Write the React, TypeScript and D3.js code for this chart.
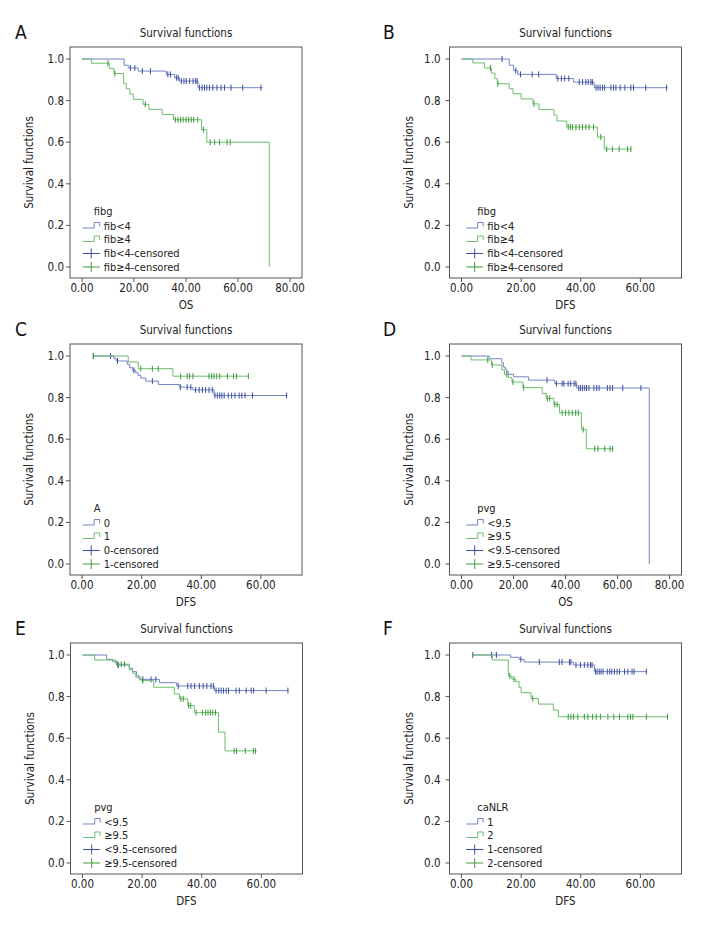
import React from 'react';
import * as d3 from 'd3';

// ---------- axis ticks ----------
const yTicks = [0, 0.2, 0.4, 0.6, 0.8, 1.0];
const xTicksLong = [0, 20, 40, 60, 80];
const xTicksShort = [0, 20, 40, 60];

// ---------- Panel A (OS, fibg) ----------
const aLowSteps = [[16.2, 0.970], [17.8, 0.957], [21.6, 0.942], [32.4, 0.926], [35.6, 0.910], [37.5, 0.894], [44.6, 0.862]];
const aLowCensor = [18.6, 20.3, 23.2, 26.3, 33.0, 34.0, 36.3, 37.0, 38.2, 39.2, 40.1, 41.4, 42.7, 43.7, 44.3, 45.2, 46.2, 47.1, 48.0, 49.0, 50.3, 51.9, 53.5, 54.8, 57.3, 61.8, 68.8];
const aHighSteps = [[3.7, 0.980], [10.5, 0.955], [12.3, 0.930], [16.0, 0.883], [17.0, 0.857], [18.4, 0.831], [19.7, 0.806], [23.5, 0.782], [25.7, 0.758], [30.8, 0.733], [35.2, 0.708], [46.0, 0.660], [48.0, 0.600], [72.0, 0.0]];
const aHighCensor = [10.0, 12.6, 24.3, 35.9, 36.9, 37.9, 38.9, 40.0, 41.0, 42.0, 43.0, 44.5, 46.7, 49.3, 51.0, 52.9, 55.8, 57.0];

// ---------- Panel B (DFS, fibg) ----------
const bLowSteps = [[16.0, 0.970], [17.5, 0.944], [18.9, 0.926], [31.8, 0.906], [37.6, 0.889], [44.5, 0.862]];
const bLowCensor = [13.6, 18.2, 19.8, 23.7, 25.9, 32.3, 33.5, 34.6, 36.0, 39.5, 40.6, 41.7, 42.5, 43.4, 43.9, 45.1, 45.8, 46.5, 47.3, 48.0, 50.1, 51.0, 51.8, 53.2, 54.8, 56.8, 57.7, 61.8, 68.8];
const bHighSteps = [[3.8, 0.981], [7.7, 0.957], [10.0, 0.932], [11.2, 0.906], [12.0, 0.881], [16.0, 0.857], [17.3, 0.833], [20.0, 0.808], [24.0, 0.784], [26.0, 0.757], [31.0, 0.730], [32.0, 0.702], [35.3, 0.673], [45.6, 0.625], [47.9, 0.567]];
const bHighCensor = [9.7, 12.2, 24.3, 35.8, 36.5, 37.2, 38.4, 39.5, 40.6, 41.7, 42.8, 44.3, 46.7, 48.7, 50.6, 52.9, 55.7, 56.8];

// ---------- Panel C (DFS, A) ----------
const cZeroSteps = [[10.7, 0.987], [11.5, 0.976], [15.2, 0.960], [16.0, 0.944], [16.9, 0.931], [18.0, 0.920], [18.8, 0.907], [19.7, 0.894], [21.4, 0.879], [25.6, 0.863], [32.6, 0.850], [37.2, 0.837], [44.3, 0.810]];
const cZeroCensor = [3.8, 9.6, 11.9, 17.4, 23.6, 33.0, 35.3, 36.5, 38.1, 39.3, 40.4, 41.5, 42.6, 43.7, 44.6, 45.4, 46.2, 46.9, 47.7, 49.1, 50.2, 51.3, 52.7, 53.6, 54.7, 57.2, 68.6];
const cOneSteps = [[15.5, 0.971], [18.9, 0.939], [30.5, 0.903]];
const cOneCensor = [3.8, 19.7, 23.6, 25.6, 33.1, 35.3, 36.1, 37.2, 42.6, 43.5, 44.3, 45.2, 46.2, 48.8, 50.8, 51.8, 55.8];

// ---------- Panel D (OS, pvg) ----------
const dLowSteps = [[10.7, 0.987], [15.5, 0.968], [16.1, 0.947], [16.8, 0.936], [17.4, 0.925], [18.0, 0.912], [20.0, 0.900], [25.8, 0.884], [35.9, 0.867], [44.3, 0.846], [72.2, 0.0]];
const dLowCensor = [32.9, 36.5, 38.7, 39.4, 41.0, 42.0, 43.3, 44.0, 45.1, 45.8, 46.6, 47.4, 48.1, 49.0, 50.9, 52.0, 52.9, 56.1, 57.1, 58.1, 62.0, 69.0];
const dHighSteps = [[3.6, 0.981], [11.6, 0.957], [15.5, 0.933], [16.5, 0.912], [18.0, 0.896], [19.4, 0.875], [23.6, 0.848], [31.0, 0.820], [32.6, 0.796], [35.5, 0.767], [37.7, 0.727], [46.1, 0.647], [48.0, 0.554]];
const dHighCensor = [10.1, 11.8, 17.4, 19.8, 23.9, 33.0, 33.9, 35.9, 36.8, 38.7, 40.0, 41.3, 42.6, 43.9, 44.9, 46.8, 51.2, 52.5, 55.1, 57.1, 58.1];

// ---------- Panel E (DFS, pvg) ----------
const eLowSteps = [[8.1, 0.979], [10.1, 0.968], [11.4, 0.952], [15.7, 0.936], [16.8, 0.920], [18.1, 0.900], [19.0, 0.883], [25.8, 0.867], [31.6, 0.851], [44.2, 0.829]];
const eLowCensor = [12.0, 20.2, 23.0, 24.6, 32.1, 35.3, 36.4, 37.6, 39.2, 40.5, 41.7, 43.1, 43.9, 44.8, 45.7, 46.5, 47.3, 48.2, 49.0, 51.5, 52.6, 54.9, 56.6, 57.4, 61.6, 68.9];
const eHighSteps = [[4.1, 0.976], [11.2, 0.956], [15.7, 0.928], [16.8, 0.912], [17.9, 0.893], [19.6, 0.877], [23.9, 0.845], [30.8, 0.813], [32.5, 0.789], [35.3, 0.757], [37.5, 0.723], [45.6, 0.629], [47.8, 0.539]];
const eHighCensor = [11.8, 13.0, 14.1, 20.2, 33.0, 33.8, 35.6, 36.3, 38.1, 40.2, 41.3, 42.1, 42.9, 43.7, 44.6, 50.9, 51.7, 54.6, 57.3, 58.0];

// ---------- Panel F (DFS, caNLR) ----------
const fOneSteps = [[16.5, 0.989], [19.3, 0.979], [21.0, 0.966], [37.6, 0.952], [44.6, 0.920]];
const fOneCensor = [3.8, 10.1, 11.7, 19.9, 26.1, 32.8, 33.7, 36.2, 36.7, 38.4, 39.9, 41.2, 42.4, 43.3, 43.8, 44.9, 45.5, 46.2, 46.8, 47.5, 48.9, 49.7, 50.4, 51.3, 52.2, 53.0, 54.7, 55.8, 57.2, 57.9, 62.0];
const fTwoSteps = [[10.3, 0.976], [15.7, 0.899], [16.9, 0.884], [18.2, 0.872], [19.3, 0.844], [20.0, 0.819], [23.3, 0.791], [25.8, 0.764], [30.8, 0.735], [32.5, 0.703]];
const fTwoCensor = [16.2, 17.6, 23.9, 35.8, 36.7, 37.6, 39.0, 41.2, 42.4, 44.0, 45.2, 46.6, 49.1, 51.1, 53.0, 55.8, 56.7, 57.5, 62.0, 69.1];

// ---------- legend labels ----------
const fibLabels = ['fib<4', 'fib≥4', 'fib<4-censored', 'fib≥4-censored'];
const aLabels = ['0', '1', '0-censored', '1-censored'];
const pvgLabels = ['<9.5', '≥9.5', '<9.5-censored', '≥9.5-censored'];
const nlrLabels = ['1', '2', '1-censored', '2-censored'];

type Group = { start: number; end: number; steps: number[][]; censor: number[] };
type PanelCfg = {
  letter: string; left: number; top: number; col: number; long: boolean;
  xTitle: string; legendTitle: string; labels: string[]; groups: Group[];
};

const FONT = "'Liberation Sans Narrow', 'DejaVu Sans Condensed', 'Arial Narrow', sans-serif";
const LINE = ['#7384c6', '#6dbd6d'];
const MARK = ['#3d4f9e', '#3e9a3e'];
const AXIS = '#555';
const W = 232;
const H = 231;

function survivalAt(g: Group, t: number) {
  let s = 1;
  for (const [tt, ss] of g.steps) if (tt <= t) s = ss;
  return s;
}

function Panel({ cfg }: { cfg: PanelCfg }) {
  const { left, top, long } = cfg;
  const x = d3.scaleLinear().domain(long ? [-4.615, 84.6] : [-4.03, 73.8]).range([left, left + W]);
  const y = d3.scaleLinear().domain([-0.0529, 1.0577]).range([top + H, top]);
  const xTicks = long ? xTicksLong : xTicksShort;
  const bottom = top + H;
  const line = d3.line<number[]>().x(d => x(d[0])).y(d => y(d[1])).curve(d3.curveStepAfter);
  const labelGap = cfg.col === 0 ? 6 : 9;
  const legX = left + (cfg.col === 0 ? 12.7 : 16.7);
  const legLabelX = legX + 21;
  const y0 = y(0);
  const rows = [y0 - 41, y0 - 27.5, y0 - 13.5, y0];
  return (
    <g fontFamily={FONT}>
      <text x={cfg.col === 0 ? 15 : 383} y={top - 8} fontSize={19} fill="#111">{cfg.letter}</text>
      <text x={left + W / 2} y={top - 10.5} fontSize={11.5} textAnchor="middle" fill="#222">Survival functions</text>
      <rect x={left} y={top} width={W} height={H} fill="#fff" stroke={AXIS} strokeWidth={1} />
      {yTicks.map(v => (
        <g key={'y' + v}>
          <line x1={left - 4} x2={left} y1={y(v)} y2={y(v)} stroke={AXIS} />
          <text x={left - labelGap} y={y(v) + 4} fontSize={11.5} textAnchor="end" fill="#222">{v.toFixed(1)}</text>
        </g>
      ))}
      {xTicks.map(v => (
        <g key={'x' + v}>
          <line x1={x(v)} x2={x(v)} y1={bottom} y2={bottom + 4} stroke={AXIS} />
          <text x={x(v)} y={bottom + 14} fontSize={11.5} textAnchor="middle" fill="#222">{v.toFixed(2)}</text>
        </g>
      ))}
      <text x={left + W / 2} y={bottom + 31} fontSize={11.5} textAnchor="middle" fill="#222">{cfg.xTitle}</text>
      <text transform={`translate(${left - 37},${top + H / 2}) rotate(-90)`} fontSize={11.5} textAnchor="middle" fill="#222">Survival functions</text>
      {cfg.groups.map((g, gi) => {
        const pts: number[][] = [[g.start, 1], ...g.steps];
        const last = pts[pts.length - 1];
        if (g.end > last[0]) pts.push([g.end, last[1]]);
        return (
          <g key={'g' + gi}>
            <path d={line(pts) || ''} fill="none" stroke={LINE[gi]} strokeWidth={1} />
            {g.censor.map((t, ci) => (
              <line key={ci} x1={x(t)} x2={x(t)} y1={y(survivalAt(g, t)) - 3} y2={y(survivalAt(g, t)) + 3} stroke={MARK[gi]} strokeWidth={1} />
            ))}
          </g>
        );
      })}
      <text x={legLabelX - 10} y={y0 - 56 + 4} fontSize={11} fill="#222">{cfg.legendTitle}</text>
      {cfg.labels.map((lab, i) => {
        const ry = rows[i];
        const gi = i % 2;
        const sym = i < 2
          ? <path d={`M${legX},${ry + 2}H${legX + 11.5}V${ry - 3.5}H${legX + 17}V${ry + 0.5}`} fill="none" stroke={LINE[gi]} />
          : <path d={`M${legX},${ry}H${legX + 17}M${legX + 8.5},${ry - 5}V${ry + 5}`} fill="none" stroke={MARK[gi]} />;
        return (
          <g key={'l' + i}>
            {sym}
            <text x={legLabelX} y={ry + 4} fontSize={11} fill="#222">{lab}</text>
          </g>
        );
      })}
    </g>
  );
}

const panels: PanelCfg[] = [
  { letter: 'A', left: 70, top: 47, col: 0, long: true, xTitle: 'OS', legendTitle: 'fibg', labels: fibLabels,
    groups: [{ start: 0, end: 69.5, steps: aLowSteps, censor: aLowCensor }, { start: 0, end: 72.0, steps: aHighSteps, censor: aHighCensor }] },
  { letter: 'B', left: 449.5, top: 47, col: 1, long: false, xTitle: 'DFS', legendTitle: 'fibg', labels: fibLabels,
    groups: [{ start: 0, end: 69.1, steps: bLowSteps, censor: bLowCensor }, { start: 0, end: 57.1, steps: bHighSteps, censor: bHighCensor }] },
  { letter: 'C', left: 70, top: 344, col: 0, long: false, xTitle: 'DFS', legendTitle: 'A', labels: aLabels,
    groups: [{ start: 3.8, end: 68.9, steps: cZeroSteps, censor: cZeroCensor }, { start: 3.8, end: 56.0, steps: cOneSteps, censor: cOneCensor }] },
  { letter: 'D', left: 449.5, top: 344, col: 1, long: true, xTitle: 'OS', legendTitle: 'pvg', labels: pvgLabels,
    groups: [{ start: 0, end: 72.2, steps: dLowSteps, censor: dLowCensor }, { start: 0, end: 58.4, steps: dHighSteps, censor: dHighCensor }] },
  { letter: 'E', left: 70.5, top: 643, col: 0, long: false, xTitle: 'DFS', legendTitle: 'pvg', labels: pvgLabels,
    groups: [{ start: 0, end: 69.2, steps: eLowSteps, censor: eLowCensor }, { start: 0, end: 58.5, steps: eHighSteps, censor: eHighCensor }] },
  { letter: 'F', left: 449.5, top: 643, col: 1, long: false, xTitle: 'DFS', legendTitle: 'caNLR', labels: nlrLabels,
    groups: [{ start: 3.8, end: 62.3, steps: fOneSteps, censor: fOneCensor }, { start: 3.8, end: 69.3, steps: fTwoSteps, censor: fTwoCensor }] },
];

export default function App() {
  return (
    <svg width={708} height={936} style={{ position: 'absolute', left: 0, top: 0, background: '#fff' }}>
      <rect x={0} y={0} width={708} height={936} fill="#fff" />
      {panels.map(p => <Panel key={p.letter} cfg={p} />)}
    </svg>
  );
}
